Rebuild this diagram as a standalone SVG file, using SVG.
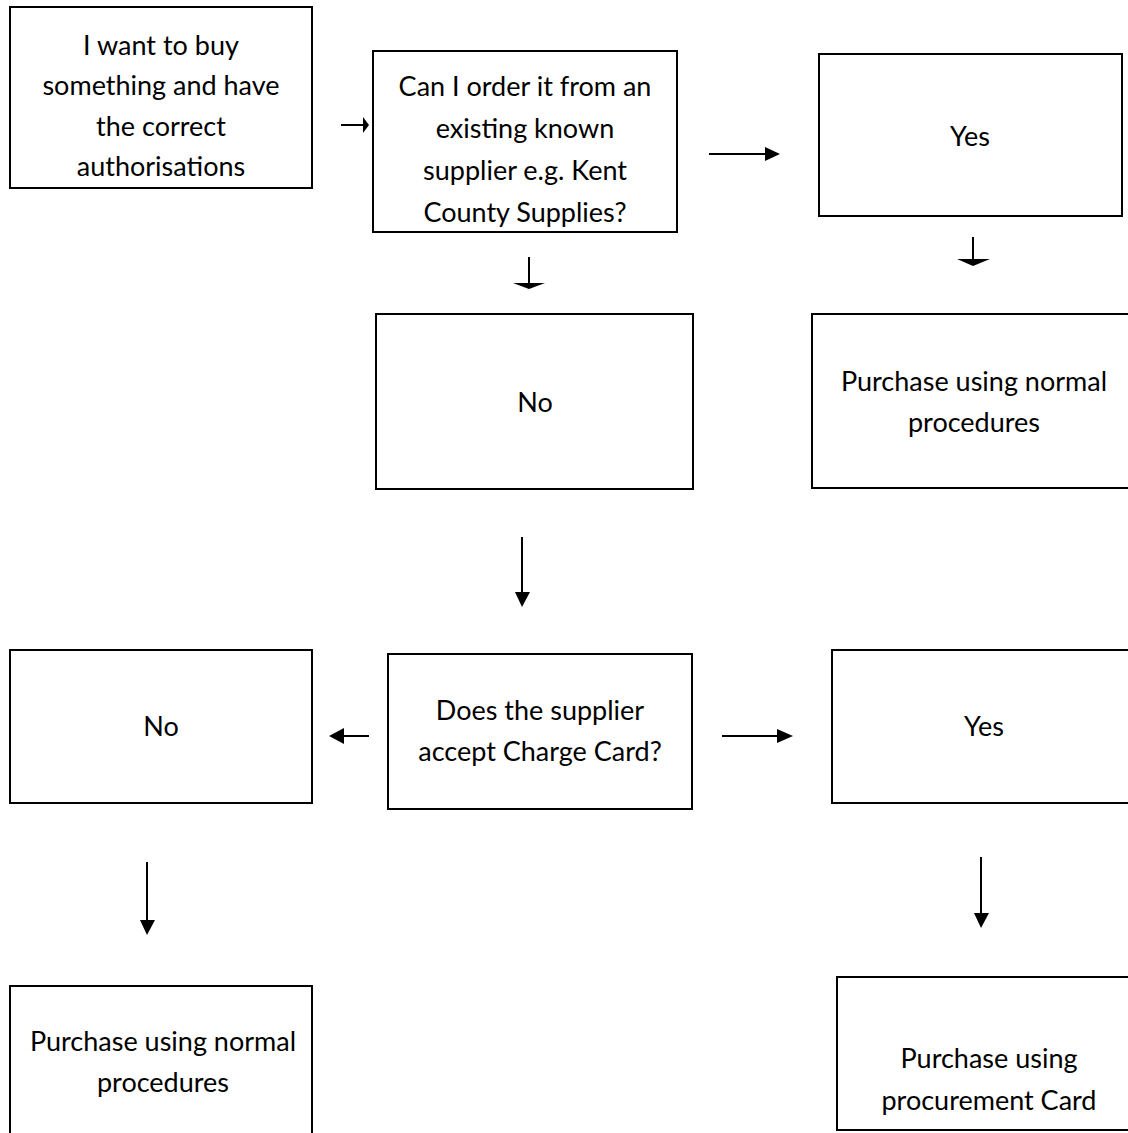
<svg xmlns="http://www.w3.org/2000/svg" width="1128" height="1133" viewBox="0 0 1128 1133">
<style>
.box{fill:#fff;stroke:#000;stroke-width:2}
.t{font-family:Lato,"Liberation Sans",sans-serif;font-size:27px;fill:#000;text-anchor:middle;dominant-baseline:central}
.ln{stroke:#000;stroke-width:2;fill:none}
.hd{fill:#000}
</style>
<rect width="1128" height="1133" fill="#fff"/>
<g id="n-start"><rect class="box" x="10" y="7" width="302" height="181"/>
<text class="t" x="161" y="44">I want to buy</text><text class="t" x="161" y="84">something and have</text><text class="t" x="161" y="125">the correct</text><text class="t" x="161" y="165">authorisations</text></g>
<g id="n-q1"><rect class="box" x="373" y="51" width="304" height="181"/>
<text class="t" x="525" y="85">Can I order it from an</text><text class="t" x="525" y="127">existing known</text><text class="t" x="525" y="169">supplier e.g. Kent</text><text class="t" x="525" y="211">County Supplies?</text></g>
<g id="n-yes1"><rect class="box" x="819" y="54" width="303" height="162"/>
<text class="t" x="970" y="135">Yes</text></g>
<g id="n-no1"><rect class="box" x="376" y="314" width="317" height="175"/>
<text class="t" x="535" y="401">No</text></g>
<g id="n-normal1"><rect class="box" x="812" y="314" width="324" height="174"/>
<text class="t" x="974" y="380">Purchase using normal</text><text class="t" x="974" y="421">procedures</text></g>
<g id="n-q2"><rect class="box" x="388" y="654" width="304" height="155"/>
<text class="t" x="540" y="709">Does the supplier</text><text class="t" x="540" y="750">accept Charge Card?</text></g>
<g id="n-no2"><rect class="box" x="10" y="650" width="302" height="153"/>
<text class="t" x="161" y="725">No</text></g>
<g id="n-yes2"><rect class="box" x="832" y="650" width="304" height="153"/>
<text class="t" x="984" y="725">Yes</text></g>
<g id="n-normal2"><rect class="box" x="10" y="986" width="302" height="160"/>
<text class="t" x="163" y="1040">Purchase using normal</text><text class="t" x="163" y="1081">procedures</text></g>
<g id="n-card"><rect class="box" x="837" y="977" width="299" height="153"/>
<text class="t" x="989" y="1057">Purchase using</text><text class="t" x="989" y="1099">procurement Card</text></g>
<g id="connectors">
<line class="ln" x1="341" y1="125" x2="364" y2="125"/><polygon class="hd" points="363,117 369,125 363,133"/>
<line class="ln" x1="709" y1="154" x2="766" y2="154"/><polygon class="hd" points="765,147 780,154 765,161"/>
<line class="ln" x1="529" y1="257" x2="529" y2="284"/><polygon class="hd" points="513,283 545,283 529,289"/>
<line class="ln" x1="973" y1="237" x2="973" y2="260"/><polygon class="hd" points="957,259 990,259 973,266"/>
<line class="ln" x1="522" y1="537" x2="522" y2="593"/><polygon class="hd" points="515,592 530,592 522,607"/>
<line class="ln" x1="369" y1="736" x2="343" y2="736"/><polygon class="hd" points="344,728 329,736 344,744"/>
<line class="ln" x1="722" y1="736" x2="778" y2="736"/><polygon class="hd" points="777,729 793,736 777,743"/>
<line class="ln" x1="147" y1="862" x2="147" y2="921"/><polygon class="hd" points="140,920 155,920 147,935"/>
<line class="ln" x1="981" y1="857" x2="981" y2="914"/><polygon class="hd" points="974,913 989,913 981,928"/>
</g>
</svg>
